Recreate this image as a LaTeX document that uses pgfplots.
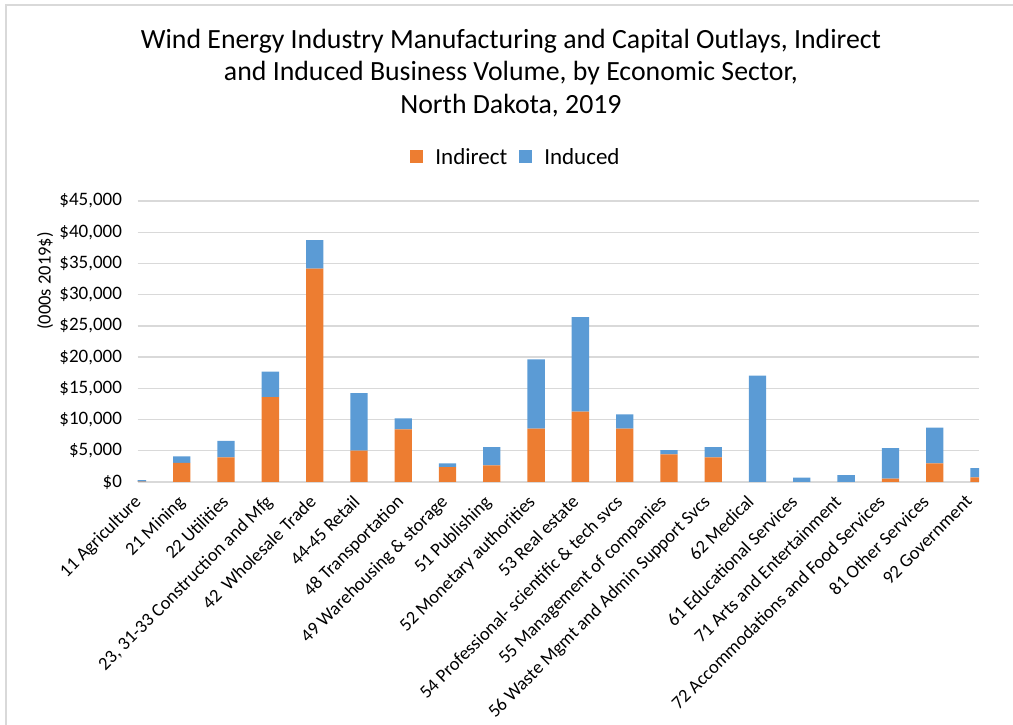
\documentclass[border=0pt]{standalone}
\usepackage{fontspec}
\setmainfont{Carlito}
\usepackage{pgfplots}
\pgfplotsset{compat=1.18}
\definecolor{xlorange}{HTML}{ED7D31}
\definecolor{xlblue}{HTML}{5B9BD5}
\definecolor{gridgray}{HTML}{D9D9D9}
\pgfplotstableread{
idx indirect induced
0 60 240
1 3050 1060
2 3950 2620
3 13610 4060
4 34160 4590
5 5020 9230
6 8430 1770
7 2400 590
8 2670 2930
9 8540 11100
10 11260 15160
11 8540 2300
12 4430 690
13 3950 1650
14 0 17030
15 0 690
16 0 1120
17 530 4910
18 2990 5710
19 750 1490
}\datatable
\begin{document}
\begin{tikzpicture}[x=1pt,y=1pt]
\useasboundingbox (0,0) rectangle (1013,725);
\draw[gridgray, line width=1.5pt] (6,0) -- (6,720) -- (1013,720);
\begin{axis}[
  at={(137.5pt,243pt)}, anchor=south west,
  scale only axis, width=841.5pt, height=281pt,
  xmin=0, xmax=19, ymin=0, ymax=45000,
  ybar stacked, bar width=17.3pt,
  axis line style={draw=none},
  ymajorgrids, major grid style={gridgray, line width=1.3pt},
  major tick length=0pt,
  ytick={0,5000,...,45000},
  scaled y ticks=false,
  /pgf/number format/assume math mode=true,
  yticklabel={\$\pgfmathprintnumber[fixed,1000 sep={,}]{\tick}},
  yticklabel style={font=\fontsize{19}{22}\selectfont, xshift=-12pt},
  xtick={0.056,1.045,2.033,3.021,4.010,4.998,5.986,6.975,7.963,8.951,9.939,10.928,11.916,12.904,13.893,14.881,15.869,16.858,17.846,18.834},
  xticklabels={11 Agriculture, 21 Mining, 22 Utilities, {23, 31-33 Construction and Mfg}, 42\ \ Wholesale Trade, 44-45 Retail, 48 Transportation, 49 Warehousing \& storage, 51 Publishing, 52 Monetary authorities, 53 Real estate, 54 Professional- scientific \& tech svcs, 55 Management of companies, 56 Waste Mgmt and Admin Support Svcs, 62 Medical, 61 Educational Services, 71 Arts and Entertainment, 72 Accommodations and Food Services, 81 Other Services, 92 Government},
  xticklabel style={rotate=45, anchor=north east, font=\fontsize{18.5}{21}\selectfont, xshift=-10pt, yshift=0pt},
  title={Wind Energy Industry Manufacturing and Capital Outlays, Indirect\\ and Induced Business Volume, by Economic Sector,\\ North Dakota, 2019},
  title style={at={(axis description cs:0.4438,1.434)}, anchor=center, align=center, font=\fontsize{27.8}{32.8}\selectfont},
  ylabel={(000s 2019\$)},
  ylabel style={at={(axis description cs:-0.1099,0.715)}, anchor=center, font=\fontsize{18.5}{21}\selectfont},
  legend columns=2,
  legend style={at={(axis description cs:0.4498,1.1566)}, anchor=center, draw=none, fill=none, font=\fontsize{23}{26}\selectfont, column sep=10pt},
  legend image code/.code={\fill[#1] (3pt,-6pt) rectangle (16pt,7pt);},
]
\addplot[fill=xlorange, draw=none] table[x=idx, y=indirect] {\datatable};
\addplot[fill=xlblue, draw=none] table[x=idx, y=induced] {\datatable};
\legend{Indirect, Induced}
\end{axis}
\end{tikzpicture}
\end{document}
